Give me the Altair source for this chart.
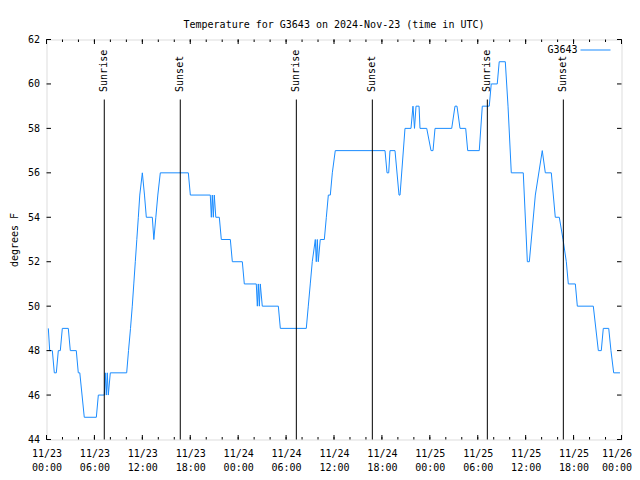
import altair as alt
import pandas as pd

title_text = "Temperature for G3643 on 2024-Nov-23 (time in UTC)"
series_name = "G3643"
y_title = "degrees F"
MONO = "DejaVu Sans Mono"
LINE_COLOR = "#1a8cff"

# hours after 2024-11-23 00:00 UTC, and temperature (degrees F)
hours = [0.23, 0.40, 0.73, 0.98, 1.23, 1.48, 1.73, 1.98, 2.73, 2.98, 3.73, 3.98, 4.17, 4.73,
         6.24, 6.49, 7.24, 7.36, 7.49, 7.61, 7.74, 7.99, 10.04, 10.27, 10.52, 10.74, 10.93,
         11.12, 11.31, 11.50, 11.68, 12.00, 12.27, 12.50, 13.25, 13.44, 13.69, 13.94, 14.25,
         17.76, 18.01, 20.51, 20.64, 20.76, 20.89, 21.01, 21.20, 21.64, 21.89, 23.02, 23.27,
         24.52, 24.77, 26.27, 26.40, 26.52, 26.65, 26.77, 27.02, 29.03, 29.28, 32.53, 32.78,
         33.03, 33.28, 33.66, 33.78, 33.91, 34.03, 34.28, 34.79, 35.04, 35.29, 35.54, 35.79,
         36.16, 42.39, 42.64, 42.85, 43.01, 43.64, 44.14, 44.27, 44.89, 45.64, 45.89, 46.08,
         46.27, 46.65, 46.77, 47.61, 48.15, 48.40, 48.65, 50.74, 51.15, 51.40, 51.78, 52.49,
         52.74, 54.19, 54.57, 55.44, 55.69, 56.44, 56.69, 57.45, 57.79, 58.20, 59.70, 60.21,
         60.46, 61.21, 62.08, 62.46, 63.21, 63.71, 64.21, 64.68, 65.09, 65.34, 66.22, 66.47,
         68.47, 69.10, 69.47, 69.72, 70.40, 70.68, 71.02, 71.81]
temps = [49, 48, 48, 47, 47, 48, 48, 49, 49, 48, 48, 47, 47, 45,
         45, 46, 46, 47, 46, 47, 46, 47, 47, 48, 49, 50, 51,
         52, 53, 54, 55, 56, 55, 54, 54, 53, 54, 55, 56,
         56, 55, 55, 54, 55, 54, 55, 54, 54, 53, 53, 52,
         52, 51, 51, 50, 51, 50, 51, 50, 50, 49, 49, 50,
         51, 52, 53, 52, 53, 52, 53, 53, 54, 55, 55, 56,
         57, 57, 56, 56, 57, 57, 55, 55, 58, 58, 59, 58,
         59, 59, 58, 58, 57, 57, 58, 58, 59, 59, 58, 58,
         57, 57, 59, 59, 60, 60, 61, 61, 59, 56, 56, 52,
         52, 55, 57, 56, 56, 54, 54, 53, 52, 51, 51, 50,
         50, 48, 48, 49, 49, 48, 47, 47]

event_labels = ["Sunrise", "Sunset", "Sunrise", "Sunset", "Sunrise", "Sunset"]
event_times = ["2024-11-23T07:14:00Z", "2024-11-23T16:45:00Z", "2024-11-24T07:17:00Z",
               "2024-11-24T16:48:00Z", "2024-11-25T07:12:00Z", "2024-11-25T16:43:00Z"]

y_ticks = list(range(44, 63, 2))
major_tick_hours = list(range(0, 73, 6))
minor_tick_hours = list(range(0, 73, 2))

t0 = pd.Timestamp("2024-11-23T00:00:00")


def iso(h):
    return (t0 + pd.Timedelta(hours=h)).strftime("%Y-%m-%dT%H:%M:%SZ")


def ms(h):
    return int((pd.Timestamp("2024-11-23T00:00:00", tz="UTC") + pd.Timedelta(hours=h)).timestamp() * 1000)


temp_df = pd.DataFrame({"t": [iso(h) for h in hours], "temp": temps})
event_df = pd.DataFrame({"t": event_times, "label": event_labels})
major_df = pd.DataFrame({"t": [iso(h) for h in major_tick_hours]})
minor_df = pd.DataFrame({"t": [iso(h) for h in minor_tick_hours]})
ytick_df = pd.DataFrame({"v": y_ticks})

x_scale = alt.Scale(type="utc", domain=[ms(0), ms(72)], nice=False)
y_scale = alt.Scale(domain=[44, 62], nice=False, zero=False)

x_axis = alt.Axis(
    values=[ms(h) for h in major_tick_hours],
    labelExpr="[utcFormat(datum.value, '%m/%d'), utcFormat(datum.value, '%H:%M')]",
    labelFont=MONO, labelFontSize=10, labelColor="black",
    labelBaseline="top", labelPadding=9, labelLineHeight=13.5,
    labelOverlap=False, labelFlush=False, labelAlign="center",
    labelOffset={"condition": {"test": f"datum.value > {ms(71)}", "value": -5}, "value": 0},
    ticks=False, tickSize=0, domain=False, grid=False, title=None,
)
y_axis = alt.Axis(
    values=y_ticks, format="d",
    labelFont=MONO, labelFontSize=10, labelColor="black", labelPadding=7,
    labelFlush=False, labelOverlap=False,
    ticks=False, tickSize=0, domain=False, grid=False,
    title=y_title, titleFont=MONO, titleFontSize=10, titleFontWeight="normal",
    titleColor="black", titleAngle=270, titleX=-32, titleY=200,
    titleAlign="center", titleBaseline="middle",
)

X = alt.X("t:T", scale=x_scale, axis=x_axis)

line = alt.Chart(temp_df).mark_line(color=LINE_COLOR, strokeWidth=1).encode(
    x=X, y=alt.Y("temp:Q", scale=y_scale, axis=y_axis)
)

rules = alt.Chart(event_df).mark_rule(color="black", strokeWidth=1).encode(
    x=X, y=alt.datum(59.3), y2=alt.datum(44)
)

labels = alt.Chart(event_df).mark_text(
    angle=270, align="left", baseline="middle", font=MONO, fontSize=10, color="black"
).encode(x=X, y=alt.datum(59.64), text="label:N")

MAJ = 4.5
MIN = 2.5
bottom_major = alt.Chart(major_df).mark_rule(color="black").encode(
    x=X, y=alt.value(400), y2=alt.value(400 - MAJ))
bottom_minor = alt.Chart(minor_df).mark_rule(color="black").encode(
    x=X, y=alt.value(400), y2=alt.value(400 - MIN))
top_major = alt.Chart(major_df).mark_rule(color="black").encode(
    x=X, y=alt.value(0), y2=alt.value(MAJ))
top_minor = alt.Chart(minor_df).mark_rule(color="black").encode(
    x=X, y=alt.value(0), y2=alt.value(MIN))
left_ticks = alt.Chart(ytick_df).mark_rule(color="black").encode(
    y=alt.Y("v:Q", scale=y_scale, axis=y_axis), x=alt.value(0), x2=alt.value(MAJ))
right_ticks = alt.Chart(ytick_df).mark_rule(color="black").encode(
    y=alt.Y("v:Q", scale=y_scale, axis=y_axis), x=alt.value(575), x2=alt.value(575 - MAJ))

legend_df = pd.DataFrame({"name": [series_name]})
legend_text = alt.Chart(legend_df).mark_text(
    align="right", baseline="middle", font=MONO, fontSize=10, color="black"
).encode(x=alt.value(531), y=alt.value(10.5), text="name:N")
legend_line = alt.Chart(legend_df).mark_rule(color=LINE_COLOR, strokeWidth=1).encode(
    x=alt.value(534), x2=alt.value(564), y=alt.value(10.5))

title_df = pd.DataFrame({"title": [title_text]})
title_mark = alt.Chart(title_df).mark_text(
    align="center", baseline="alphabetic", font=MONO, fontSize=10, color="black"
).encode(x=alt.value(287.5), y=alt.value(-12), text="title:N")

chart = alt.layer(
    line, rules, labels, bottom_major, bottom_minor, top_major, top_minor,
    left_ticks, right_ticks, legend_text, legend_line, title_mark
).properties(
    width=575, height=400,
    autosize=alt.AutoSizeParams(type="none"),
    padding={"left": 38.5, "top": 31.5, "right": 10.5, "bottom": 31.5},
).configure_view(stroke="black", strokeWidth=1).configure(background="white")

chart.save("out.html", embed_options={"renderer": "svg", "actions": False})
